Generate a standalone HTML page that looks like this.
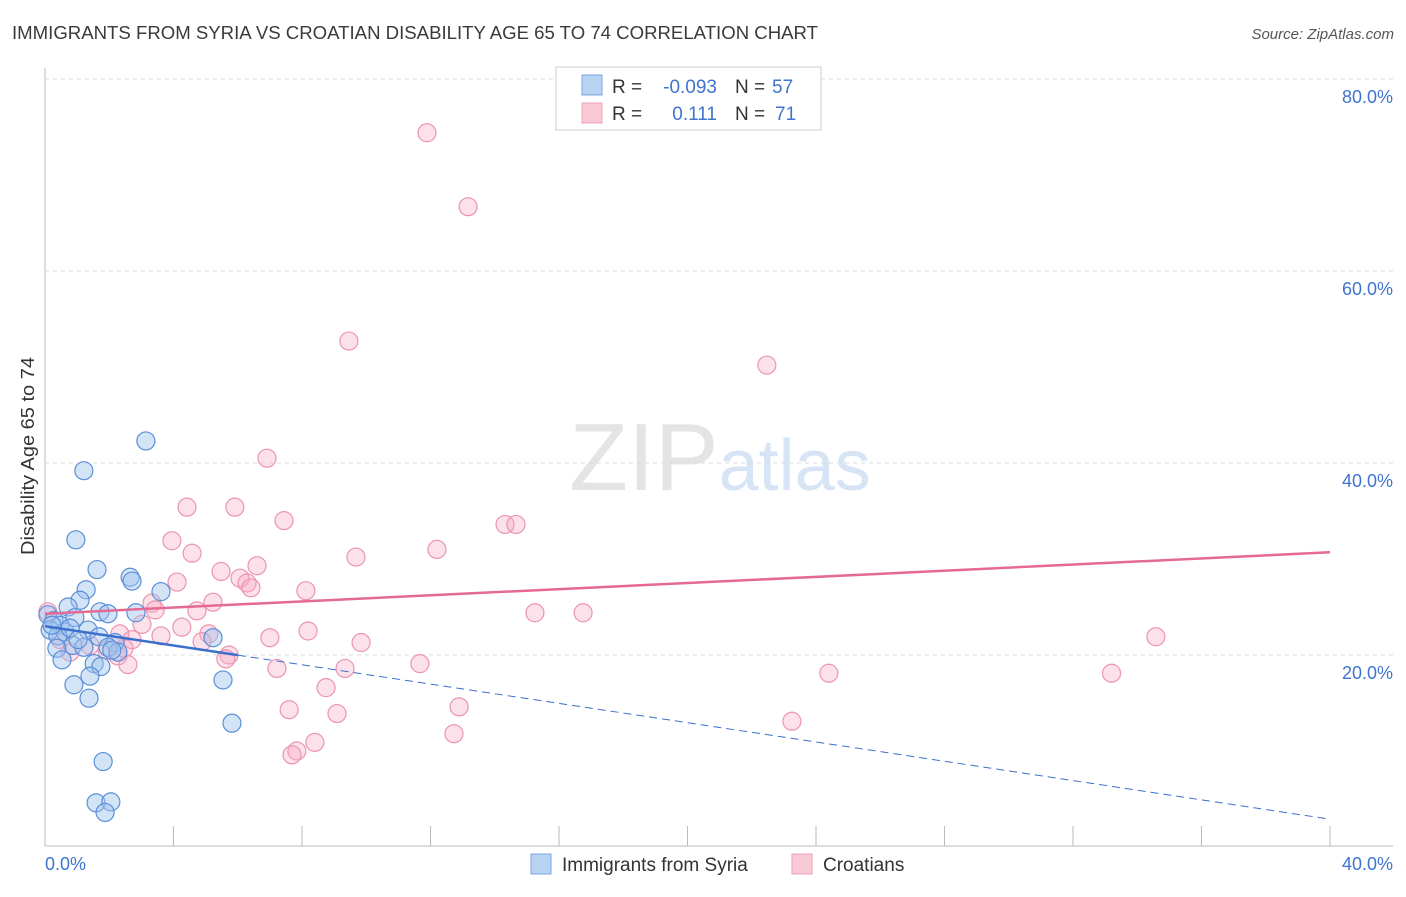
<!DOCTYPE html>
<html><head><meta charset="utf-8"><style>
body{margin:0;background:#fff;font-family:"Liberation Sans",sans-serif}
svg text{font-family:"Liberation Sans",sans-serif}
</style></head><body>
<svg width="1406" height="892" xmlns="http://www.w3.org/2000/svg" id="chart">
<text x="12" y="39" font-size="18" fill="#3a3a3a" textLength="806" lengthAdjust="spacingAndGlyphs">IMMIGRANTS FROM SYRIA VS CROATIAN DISABILITY AGE 65 TO 74 CORRELATION CHART</text>
<text x="1394" y="39" font-size="15" fill="#555" text-anchor="end" font-style="italic">Source: ZipAtlas.com</text>
<text transform="translate(34,456) rotate(-90)" font-size="18" fill="#333" text-anchor="middle" textLength="198" lengthAdjust="spacingAndGlyphs">Disability Age 65 to 74</text>
<text x="720" y="490" font-size="96" fill="#e4e4e4" text-anchor="middle" font-family="Liberation Serif">ZIP<tspan fill="#d6e4f5" font-family="Liberation Sans" font-size="72">atlas</tspan></text>
<g id="grid"></g><g id="marks"></g><g id="trends"></g>
<g>
<rect x="556" y="67" width="265" height="63" fill="#fff" stroke="#ccc"/>
<rect x="582" y="75" width="20" height="20" fill="#b9d3f3" stroke="#7aa6e0"/>
<rect x="582" y="103" width="20" height="20" fill="#f9c9d6" stroke="#eda0b8"/>
<text x="612" y="93" font-size="19" fill="#333">R =</text>
<text x="717" y="93" font-size="19" fill="#3f74cf" text-anchor="end">-0.093</text>
<text x="735" y="93" font-size="19" fill="#333">N =</text>
<text x="772" y="93" font-size="19" fill="#3f74cf">57</text>
<text x="612" y="120" font-size="19" fill="#333">R =</text>
<text x="717" y="120" font-size="19" fill="#3f74cf" text-anchor="end">0.111</text>
<text x="735" y="120" font-size="19" fill="#333">N =</text>
<text x="775" y="120" font-size="19" fill="#3f74cf">71</text>
</g>
<g>
<rect x="531" y="854" width="20" height="20" fill="#b9d3f3" stroke="#7aa6e0"/>
<text x="562" y="871" font-size="19" fill="#333">Immigrants from Syria</text>
<rect x="792" y="854" width="20" height="20" fill="#f9c9d6" stroke="#eda0b8"/>
<text x="823" y="871" font-size="19" fill="#333">Croatians</text>
</g>
</svg>
<script>
const xTicks=[0,4,8,12,16,20,24,28,32,36,40];
const yTicks=[20,40,60,80];
const yTickLabels=["20.0%","40.0%","60.0%","80.0%"];
const xTickLabels=["0.0%","40.0%"];
const syriaX=[3.14,1.21,0.96,1.62,2.65,2.71,1.28,3.61,1.09,0.72,1.71,1.96,2.83,0.09,0.28,0.93,0.47,1.34,0.16,0.62,0.40,1.68,5.23,2.18,0.87,1.21,1.96,0.37,2.27,0.53,1.53,1.74,5.54,1.40,0.90,1.37,5.82,1.81,1.59,2.05,1.87,0.22,0.78,1.03,2.08];
const syriaY=[42.3,39.2,32.0,28.9,28.1,27.7,26.8,26.6,25.7,25.0,24.5,24.3,24.4,24.2,23.6,23.9,23.1,22.6,22.6,22.4,22.0,21.9,21.8,21.3,21.0,20.8,20.8,20.7,20.3,19.5,19.1,18.8,17.4,17.8,16.9,15.5,12.9,8.9,4.6,4.7,3.6,23.1,22.8,21.6,20.5];
const croX=[11.89,13.17,9.46,22.47,6.91,4.42,5.91,7.44,14.32,14.66,3.95,12.2,4.58,9.68,6.6,5.48,6.07,4.11,6.29,6.41,8.12,5.23,3.33,3.43,4.73,15.25,16.75,3.02,4.26,8.19,5.10,3.61,2.33,7.0,34.58,2.71,4.89,9.84,2.46,1.93,0.78,5.73,2.27,5.63,11.67,2.58,7.22,9.34,24.4,33.2,8.75,7.60,12.89,9.09,23.25,12.73,8.4,7.84,7.69,0.09,0.47,1.4];
const croY=[74.4,66.7,52.7,50.2,40.5,35.4,35.4,34.0,33.6,33.6,31.9,31.0,30.6,30.2,29.3,28.7,28.0,27.6,27.5,27.0,26.7,25.5,25.4,24.7,24.6,24.4,24.4,23.2,22.9,22.5,22.2,22.0,22.2,21.8,21.9,21.6,21.4,21.3,20.7,20.5,20.3,20.0,19.9,19.6,19.1,19.0,18.6,18.6,18.1,18.1,16.6,14.3,14.6,13.9,13.1,11.8,10.9,10.0,9.6,24.5,21.6,21.0];
const syriaTrend=[23.0,2.9];
const syriaSolidEnd=6.0;
const croTrend=[24.3,30.7];
const NS="http://www.w3.org/2000/svg";
const X=v=>45+v*(1285/40), Y=v=>847-v*9.6;
function mk(tag,attrs,parent){const e=document.createElementNS(NS,tag);for(const k in attrs)e.setAttribute(k,attrs[k]);document.getElementById(parent).appendChild(e);return e;}
let e=mk('line',{x1:45,y1:68,x2:45,y2:846,stroke:'#bbb'},'grid');


e=mk('line',{x1:45,y1:846,x2:1393,y2:846,stroke:'#bbb'},'grid');


yTicks.forEach((t,i)=>{
 let g=mk('line',{x1:45,y1:Y(t),x2:1393,y2:Y(t),stroke:'#ddd','stroke-dasharray':'4,4'},'grid');
 
 
 let l=mk('text',{x:1393,y:Y(t)+24,'font-size':18,fill:'#3f74cf','text-anchor':'end'},'grid');l.textContent=yTickLabels[i];
 
 
});
xTicks.forEach(t=>{
 let g=mk('line',{x1:X(t),y1:826,x2:X(t),y2:846,stroke:'#bbb'},'grid');
 
 
});
[[0,45,'start'],[1,1393,'end']].forEach(([i,x,a])=>{
 let l=mk('text',{x:x,y:870,'font-size':18,fill:'#3f74cf','text-anchor':a},'grid');l.textContent=xTickLabels[i];
 
 
});
croX.forEach((v,i)=>{
 let c=mk('circle',{cx:X(v),cy:Y(croY[i]),r:9,fill:'rgba(246,170,194,0.35)',stroke:'#ec94b0','stroke-width':1.2},'marks');
 
 
});
syriaX.forEach((v,i)=>{
 let c=mk('circle',{cx:X(v),cy:Y(syriaY[i]),r:9,fill:'rgba(160,196,238,0.45)',stroke:'#5b8fd8','stroke-width':1.2},'marks');
 
 
});
const sy=x=>syriaTrend[0]+(syriaTrend[1]-syriaTrend[0])*x/40;
e=mk('line',{x1:X(0),y1:Y(croTrend[0]),x2:X(40),y2:Y(croTrend[1]),stroke:'#e46a93','stroke-width':2.5},'trends');


e=mk('line',{x1:X(0),y1:Y(sy(0)),x2:X(syriaSolidEnd),y2:Y(sy(syriaSolidEnd)),stroke:'#3a70cc','stroke-width':2.5},'trends');


e=mk('line',{x1:X(syriaSolidEnd),y1:Y(sy(syriaSolidEnd)),x2:X(40),y2:Y(sy(40)),stroke:'#3a70cc','stroke-width':1,'stroke-dasharray':'8,5'},'trends');


</script>
</body></html>
